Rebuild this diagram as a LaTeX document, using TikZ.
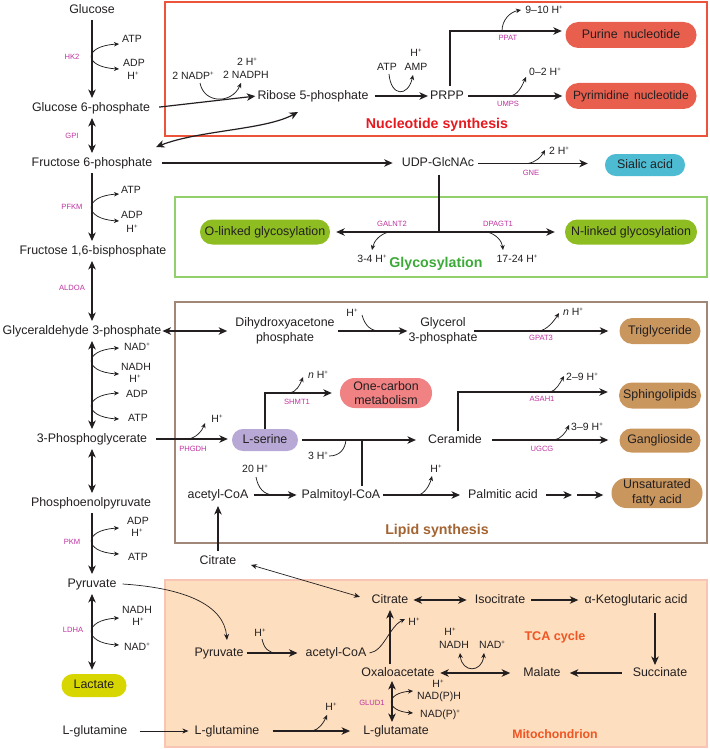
\documentclass[tikz,border=0pt]{standalone}
\usepackage{fontspec}
\setmainfont{Liberation Sans}
\usetikzlibrary{arrows.meta}
\definecolor{ink}{RGB}{35,31,32}
\definecolor{enzc}{RGB}{190,50,160}
\definecolor{nucedge}{RGB}{235,84,58}
\definecolor{nuct}{RGB}{230,25,30}
\definecolor{glyedge}{RGB}{146,208,110}
\definecolor{glyt}{RGB}{60,170,55}
\definecolor{lipedge}{RGB}{160,135,120}
\definecolor{lipt}{RGB}{163,100,50}
\definecolor{mitofill}{RGB}{253,222,190}
\definecolor{mitoedge}{RGB}{248,196,180}
\definecolor{mitot}{RGB}{240,85,35}
\definecolor{nucov}{RGB}{233,95,78}
\definecolor{siac}{RGB}{77,187,210}
\definecolor{glyov}{RGB}{141,189,32}
\definecolor{lipov}{RGB}{201,150,94}
\definecolor{onecc}{RGB}{240,130,132}
\definecolor{serc}{RGB}{184,168,214}
\definecolor{lacc}{RGB}{216,214,0}
\newcommand{\sps}{\raisebox{0.42em}{\fontsize{6}{6}\selectfont +}}
\newcommand{\Hp}{H\sps}
\tikzset{
 met/.style={font=\fontsize{12.4}{15}\selectfont, text=ink, inner sep=1pt, text height=9pt, text depth=2.6pt},
 met2/.style={font=\fontsize{12.4}{15}\selectfont, text=ink, inner sep=1pt, align=center},
 sm/.style={font=\fontsize{10.5}{12}\selectfont, text=ink, inner sep=0.5pt},
 enz/.style={font=\fontsize{7.6}{9}\selectfont, text=enzc, inner sep=0.5pt},
 ttl/.style={font=\bfseries\fontsize{14.2}{16}\selectfont, inner sep=1pt},
 ov/.style={rectangle, inner sep=0pt, text=ink, font=\fontsize{12.4}{14.5}\selectfont},
 ov1/.style={ov, text height=9pt, text depth=2.6pt},
 ov2/.style={ov, align=center},
 main/.style={line width=1.2pt, draw=ink, >={Stealth[length=8.5pt,width=7.5pt,inset=2.5pt]}},
 curl/.style={line width=0.75pt, draw=ink, >={Stealth[length=5pt,width=4.5pt,inset=1.5pt]}},
 thinarr/.style={line width=0.7pt, draw=ink, >={Stealth[length=6pt,width=5pt,inset=1.8pt]}}
}
\begin{document}
\begin{tikzpicture}[x=1pt,y=-1pt]
\useasboundingbox (0,0) rectangle (709,749);
% ---------- compartments ----------
\filldraw[fill=mitofill, draw=mitoedge, line width=1.2pt] (165,580) rectangle (707,747);
\draw[draw=nucedge, line width=1.5pt] (165,2) rectangle (707,136);
\draw[draw=glyedge, line width=1.4pt] (175,197) rectangle (707,277);
\draw[draw=lipedge, line width=1.4pt] (175,302) rectangle (707,543);
\node[ttl, text=nuct] (tnuc) at (437,125) {Nucleotide synthesis};
\node[ttl, text=glyt] (tgly) at (436,264) {Glycosylation};
\node[ttl, text=lipt] (tlip) at (437,531) {Lipid synthesis};
\node[ttl, text=mitot, font=\bfseries\fontsize{12.6}{14}\selectfont] (ttca) at (555,637) {TCA cycle};
\node[ttl, text=mitot, font=\bfseries\fontsize{12.3}{14}\selectfont] (tmito) at (555,734) {Mitochondrion};
% ---------- glycolysis column ----------
\coordinate (spx) at (92,0);
\node[met] (glc) at (92,10) {Glucose};
\node[met] (g6p) at (91,108) {Glucose 6-phosphate};
\node[met] (f6p) at (92,163) {Fructose 6-phosphate};
\node[met] (f16) at (93,251) {Fructose 1,6-bisphosphate};
\node[met] (ga3p) at (82,331) {Glyceraldehyde 3-phosphate};
\node[met] (pg3) at (92,439) {3-Phosphoglycerate};
\node[met] (pep) at (91,503) {Phosphoenolpyruvate};
\node[met] (pyr) at (92,584) {Pyruvate};
\node[ov1, fill=lacc, minimum width=65pt, minimum height=23pt, rounded corners=11.3pt] (lac) at (94,685.5) {Lactate};
\node[met] (gln) at (95,731) {L-glutamine};
\draw[main,->,shorten <=3pt,shorten >=3pt] (glc.south -| spx) -- (g6p.north -| spx);
\draw[main,<->,shorten <=3pt,shorten >=3pt] (g6p.south -| spx) -- (f6p.north -| spx);
\draw[main,->,shorten <=3pt,shorten >=3pt] (f6p.south -| spx) -- (f16.north -| spx);
\draw[main,<->,shorten <=3pt,shorten >=3pt] (f16.south -| spx) -- (ga3p.north -| spx);
\draw[main,<->,shorten <=3pt,shorten >=3pt] (ga3p.south -| spx) -- (pg3.north -| spx);
\draw[main,<->,shorten <=3pt,shorten >=3pt] (pg3.south -| spx) -- (pep.north -| spx);
\draw[main,->,shorten <=3pt,shorten >=3pt] (pep.south -| spx) -- (pyr.north -| spx);
\draw[main,<->,shorten <=3pt,shorten >=4pt] (pyr.south -| spx) -- (lac.north -| spx);
% enzymes
\node[enz] (ehk2) at (72,57) {HK2};
\node[enz] (egpi) at (72,136) {GPI};
\node[enz] (epfk) at (72,207) {PFKM};
\node[enz] (eald) at (72,288) {ALDOA};
\node[enz] (epkm) at (72,542) {PKM};
\node[enz] (eldh) at (73,630) {LDHA};
% side compounds
\node[sm] (a1) at (132,39) {ATP};
\node[sm] (a2) at (134,63) {ADP};
\node[sm] (a3) at (133,76) {\Hp};
\draw[curl,<->] (119,44) .. controls (83,46) and (83,67) .. (119,69);
\node[sm] (b1) at (131,190) {ATP};
\node[sm] (b2) at (132,215) {ADP};
\node[sm] (b3) at (132,229) {\Hp};
\draw[curl,<->] (119,194) .. controls (83,196) and (83,219) .. (119,221);
\node[sm] (c1) at (137,347) {NAD\sps};
\node[sm] (c2) at (136,367) {NADH};
\node[sm] (c3) at (135,379) {\Hp};
\draw[curl,<->] (119,348) .. controls (83,350) and (83,372) .. (119,374);
\node[sm] (d1) at (137,394) {ADP};
\node[sm] (d2) at (138,418) {ATP};
\draw[curl,<->] (119,393) .. controls (83,395) and (83,417) .. (119,419);
\node[sm] (e1) at (138,521) {ADP};
\node[sm] (e2) at (137,533) {\Hp};
\node[sm] (e3) at (138,557) {ATP};
\draw[curl,<->] (119,528) .. controls (83,530) and (83,552) .. (119,554);
\node[sm] (f1) at (137,610) {NADH};
\node[sm] (f2) at (138,622) {\Hp};
\node[sm] (f3) at (137,647) {NAD\sps};
\draw[curl,<->] (119,618) .. controls (83,620) and (83,643) .. (119,645);
% ---------- nucleotide synthesis ----------
\node[met] (r5p) at (313,96) {Ribose 5-phosphate};
\draw[main,->,shorten <=8pt,shorten >=1pt] (g6p.east) -- (r5p.west);
\node[sm] (nadp) at (193,76) {2 NADP\sps};
\node[sm] (h2a) at (247,62) {2 \Hp};
\node[sm] (nadph) at (246,75) {2 NADPH};
\draw[curl,->] (200,83) .. controls (204,104) and (232,104) .. (241,83);
\draw[main,<->] (156,147) .. controls (200,130) and (265,130) .. (298,112);
\node[met] (prpp) at (447,96) {PRPP};
\draw[main,->,shorten <=5pt,shorten >=1pt] (r5p.east) -- (prpp.west);
\node[sm] (atp3) at (387,67) {ATP};
\node[sm] (h3) at (416,53) {\Hp};
\node[sm] (amp) at (416,67) {AMP};
\draw[curl,->] (389,74) .. controls (391,97) and (408,97) .. (413,75);
\node[ov1, fill=nucov, minimum width=131pt, minimum height=26pt, rounded corners=12.8pt] (pur) at (631,35) {Purine\hspace{6pt}nucleotide};
\node[ov1, fill=nucov, minimum width=131pt, minimum height=26pt, rounded corners=12.8pt, font=\fontsize{12}{14}\selectfont] (pyrn) at (631,96) {Pyrimidine\hspace{5pt}nucleotide};
\coordinate (px) at (450,0);
\draw[main,->,shorten <=3pt,shorten >=3.5pt] (prpp.north -| px) |- ([yshift=4pt]pur.west);
\draw[main,->,shorten <=3pt,shorten >=3pt] (prpp.east) -- (pyrn.west);
\node[enz] (eppat) at (508,38) {PPAT};
\node[sm] (h910) at (544,10) {9--10 \Hp};
\draw[curl,->] (502,31) .. controls (502,20) and (510,12) .. (521,10);
\node[enz] (eumps) at (508,104) {UMPS};
\node[sm] (h02) at (545,72) {0--2 \Hp};
\draw[curl,->] (510,96) .. controls (518,95) and (522,86) .. (526,77);
% ---------- hexosamine / glycosylation ----------
\node[met] (udp) at (438,163.5) {UDP-GlcNAc};
\draw[main,->,shorten <=8pt,shorten >=8pt] (f6p.east) -- (f6p.east -| udp.west);
\node[ov1, fill=siac, minimum width=80pt, minimum height=22pt, rounded corners=10.8pt] (sia) at (645,165) {Sialic acid};
\draw[main,->,shorten <=3pt,shorten >=17pt] (udp.east) -- (udp.east -| sia.west);
\node[enz] (egne) at (531,173) {GNE};
\node[sm] (h2c) at (559,151) {2 \Hp};
\draw[curl,->] (528,163.5) .. controls (536,162) and (541,157) .. (545,150);
\coordinate (gj) at (439,232);
\draw[main,shorten <=4pt] (udp.south -| gj) -- (gj);
\node[ov1, fill=glyov, minimum width=130pt, minimum height=25pt, rounded corners=12.3pt] (olink) at (265,232) {O-linked glycosylation};
\node[ov1, fill=glyov, minimum width=132pt, minimum height=25pt, rounded corners=12.3pt] (nlink) at (631,232) {N-linked glycosylation};
\draw[main,->,shorten >=6pt] (gj) -- (olink.east);
\draw[main,->,shorten >=10pt] (gj) -- (nlink.west);
\node[enz] (egal) at (392,224) {GALNT2};
\node[sm] (h34) at (372,259) {3-4 \Hp};
\draw[curl,->] (389,232) .. controls (380,234) and (374,241) .. (372,250);
\node[enz] (edpa) at (498,224) {DPAGT1};
\node[sm] (h1724) at (517,259) {17-24 \Hp};
\draw[curl,->] (487,232) .. controls (496,234) and (502,241) .. (503,250);
% ---------- lipid synthesis ----------
\node[met2] (dhap) at (285,331) {Dihydroxyacetone\\phosphate};
\draw[main,<->,shorten >=7pt] (ga3p.east) -- (ga3p.east -| dhap.west);
\node[met2] (g3p) at (443,331) {Glycerol\\3-phosphate};
\draw[main,->,shorten <=2pt] (dhap.east) -- (g3p.west);
\node[sm] (hd) at (352,313) {\Hp};
\draw[curl] (362,315) .. controls (365,326) and (371,331) .. (380,331);
\node[ov1, fill=lipov, minimum width=81pt, minimum height=26pt, rounded corners=12.8pt] (trig) at (660,331) {Triglyceride};
\draw[main,->,shorten <=-5pt,shorten >=11pt] (g3p.east) -- (trig.west);
\node[enz] (egpat) at (541,338) {GPAT3};
\node[sm] (hn1) at (573,312) {\textit{n} \Hp};
\draw[curl,->] (539,331) .. controls (547,330) and (554,321) .. (559,313);
\node[ov1, fill=serc, minimum width=66pt, minimum height=22pt, rounded corners=10.8pt] (ser) at (265,440) {L-serine};
\draw[main,->,shorten <=8pt,shorten >=4pt] (pg3.east) -- (pg3.east -| ser.west);
\node[enz] (ephg) at (193,449) {PHGDH};
\node[sm] (hph) at (217,419) {\Hp};
\draw[curl,->] (188,439) .. controls (196,438) and (202,431) .. (205,423);
\node[ov2, fill=onecc, minimum width=92pt, minimum height=30pt, rounded corners=14.8pt] (onec) at (386,393) {One-carbon\\metabolism};
\draw[main,->,shorten >=8pt] (ser.north) |- (onec.west);
\node[enz] (eshm) at (297,402) {SHMT1};
\node[sm] (hn2) at (318,375) {\textit{n} \Hp};
\draw[curl,->] (290,393) .. controls (296,392) and (300,385) .. (303,377);
\node[met] (cer) at (455,440) {Ceramide};
\draw[main,->,shorten <=4pt,shorten >=11pt] (ser.east) -- (cer.west);
\node[met] (palm) at (341,495) {Palmitoyl-CoA};
\coordinate (sj) at (362,440);
\draw[main,shorten <=2pt] (palm.north -| sj) -- (sj);
\node[sm] (h3c) at (318,456) {3 \Hp};
\draw[curl] (329,456) .. controls (340,456) and (345,449) .. (346,440);
\node[ov1, fill=lipov, minimum width=82pt, minimum height=26pt, rounded corners=12.8pt] (sph) at (660,395.5) {Sphingolipids};
\draw[main,->,shorten <=2pt,shorten >=11pt] ([xshift=3pt]cer.north) |- ([yshift=3.5pt]sph.west);
\node[enz] (easah) at (542,399) {ASAH1};
\node[sm] (h29) at (582,377) {2--9 \Hp};
\draw[curl,->] (550,392) .. controls (556,391) and (560,383) .. (564,376);
\node[ov1, fill=lipov, minimum width=81pt, minimum height=24pt, rounded corners=11.8pt] (gang) at (660,440.5) {Ganglioside};
\draw[main,->,shorten <=9pt,shorten >=11pt] (cer.east) -- (cer.east -| gang.west);
\node[enz] (eugcg) at (542,449) {UGCG};
\node[sm] (h39) at (587,427) {3--9 \Hp};
\draw[curl,->] (554,440) .. controls (561,439) and (566,432) .. (569,425);
\node[met] (aca1) at (218,495) {acetyl-CoA};
\draw[main,->,shorten <=4pt,shorten >=4pt] (aca1.east) -- (palm.west);
\node[sm] (h20) at (255,469) {20 \Hp};
\draw[curl] (256,477) .. controls (258,488) and (264,495) .. (274,495);
\node[met] (pac) at (503,495) {Palmitic acid};
\draw[main,->,shorten <=2pt,shorten >=7pt] (palm.east) -- (pac.west);
\node[sm] (hpa) at (436,469) {\Hp};
\draw[curl,->] (418,495) .. controls (425,494) and (430,484) .. (432,476);
\node[ov2, fill=lipov, minimum width=91pt, minimum height=30pt, rounded corners=14.8pt] (ufa) at (657,493) {Unsaturated\\fatty acid};
\coordinate (pa1) at (572,495);
\coordinate (pa2) at (577,495);
\draw[main,->,shorten <=7pt] (pac.east) -- (pa1);
\draw[main,->,shorten >=8pt] (pa2) -- (pa2 -| ufa.west);
\node[met] (cit1) at (218,561) {Citrate};
\draw[main,->,shorten <=3pt,shorten >=4pt] (cit1.north) -- (aca1.south);
% ---------- mitochondrion ----------
\node[met] (cit2) at (390,600) {Citrate};
\draw[thinarr,<->,shorten <=14pt,shorten >=11pt] (cit1.east) -- (cit2.west);
\node[met] (pyr2) at (219,653) {Pyruvate};
\draw[thinarr,->] ([xshift=5pt]pyr.east) .. controls (185,588) and (224,605) .. ([xshift=8pt,yshift=6pt]pyr2.north);
\node[met] (aca2) at (336,653) {acetyl-CoA};
\draw[main,->,shorten <=2pt,shorten >=7pt] (pyr2.east) -- (aca2.west);
\node[sm] (hm1) at (260,633) {\Hp};
\draw[curl] (262,639) .. controls (264,648) and (268,653) .. (277,653);
\node[met] (oaa) at (398,673) {Oxaloacetate};
\coordinate (ox) at (390,0);
\draw[main,->,shorten <=2pt,shorten >=3pt] (oaa.north -| ox) -- (cit2.south -| ox);
\node[sm] (hm2) at (414,622) {\Hp};
\draw[curl,->] ([xshift=2pt]aca2.east) .. controls (384,651) and (389,627) .. (405,619);
\node[met] (iso) at (500,600) {Isocitrate};
\draw[main,<->,shorten <=4pt,shorten >=7pt] (cit2.east) -- (iso.west);
\node[met] (akg) at (636,600) {α-Ketoglutaric acid};
\draw[main,->,shorten <=5pt,shorten >=5pt] (iso.east) -- (akg.west);
\node[met] (suc) at (660,673) {Succinate};
\coordinate (kx) at (655,0);
\draw[main,->,shorten <=6pt,shorten >=1pt] (akg.south -| kx) -- (suc.north -| kx);
\node[met] (mal) at (542,673) {Malate};
\draw[main,->,shorten <=10pt,shorten >=8pt] (suc.west) -- (mal.east);
\draw[main,<->,shorten <=12pt,shorten >=4.5pt] (mal.west) -- (oaa.east);
\node[sm] (hm3) at (450,632) {\Hp};
\node[sm] (nadhm) at (454,645) {NADH};
\node[sm] (nadm) at (492,645) {NAD\sps};
\draw[curl,<->] (460,653) .. controls (462,673) and (482,673) .. (484,653);
\node[met] (glu) at (396,731) {L-glutamate};
\coordinate (gx) at (392,0);
\draw[main,<->,shorten <=1pt,shorten >=2pt] (oaa.south -| gx) -- (glu.north -| gx);
\node[enz] (eglud) at (372,703) {GLUD1};
\node[sm] (hm4) at (438,684) {\Hp};
\node[sm] (nadph2) at (439,697) {NAD(P)H};
\node[sm] (nadp2) at (440,715) {NAD(P)\sps};
\draw[curl,<->] (413,691) .. controls (385,693) and (385,711) .. (413,713);
\node[met] (gln2) at (227,731) {L-glutamine};
\draw[thinarr,->,shorten <=11pt,shorten >=5pt] (gln.east) -- (gln2.west);
\draw[main,->,shorten <=12pt,shorten >=12pt] (gln2.east) -- (glu.west);
\node[sm] (hm5) at (331,707) {\Hp};
\draw[curl,->] (312,731) .. controls (319,730) and (324,722) .. (327,715);
\end{tikzpicture}
\end{document}
